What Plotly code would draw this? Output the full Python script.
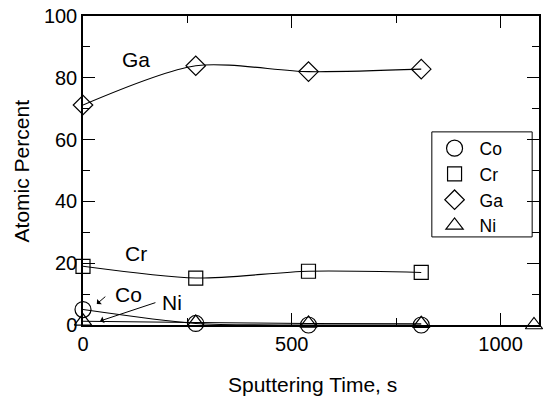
import plotly.graph_objects as go

time_s = [0, 270, 540, 810]
time_ni = [0, 270, 540, 810, 1080]
co = [5.0, 0.5, 0.0, 0.0]
cr = [19.0, 15.2, 17.4, 17.0]
ga = [71.2, 83.9, 82.0, 82.8]
ni = [1.2, 0.8, 0.5, 0.4, 0.0]

series = [
    ("Co", time_s, co, "circle-open", 16),
    ("Cr", time_s, cr, "square-open", 14),
    ("Ga", time_s, ga, "diamond-open", 15),
    ("Ni", time_ni, ni, "triangle-up-open", 15),
]

fig = go.Figure()
for name, xs, ys, sym, sz in series:
    fig.add_trace(go.Scatter(x=xs[:4], y=ys[:4], mode="lines",
                             line=dict(color="black", width=1.1, shape="spline", smoothing=0.8),
                             showlegend=False, hoverinfo="skip", cliponaxis=False))
for name, xs, ys, sym, sz in series:
    fig.add_trace(go.Scatter(x=xs, y=ys, mode="markers", name=name,
                             marker=dict(symbol=sym, size=sz, color="black", line=dict(width=1.2, color="black")),
                             cliponaxis=False))

fam = "Liberation Sans, Arial, sans-serif"
tick_font = dict(family=fam, size=20, color="black")
lab_font = dict(family=fam, size=21, color="black")
leg_font = dict(family=fam, size=17.5, color="black")

ann = [
    dict(x=127, y=86, text="Ga", showarrow=False, xref="x", yref="y", font=lab_font),
    dict(x=127, y=23, text="Cr", showarrow=False, xref="x", yref="y", font=lab_font),
    dict(x=108, y=10, text="Co", showarrow=False, xref="x", yref="y", font=lab_font),
    dict(x=213, y=7.4, text="Ni", showarrow=False, xref="x", yref="y", font=lab_font),
    dict(x=33, y=6.8, ax=57, ay=9.6, axref="x", ayref="y", xref="x", yref="y", text="", showarrow=True,
         arrowhead=1, arrowsize=1.2, arrowwidth=1, arrowcolor="black"),
    dict(x=41, y=1.3, ax=177, ay=7.4, axref="x", ayref="y", xref="x", yref="y", text="", showarrow=True,
         arrowhead=1, arrowsize=1.2, arrowwidth=1, arrowcolor="black"),
    dict(x=0.504, y=-0.194, xref="paper", yref="paper", text="Sputtering Time, s", showarrow=False,
         font=lab_font, xanchor="center", yanchor="middle"),
    dict(x=-0.134, y=0.5, xref="paper", yref="paper", text="Atomic Percent", showarrow=False,
         font=lab_font, xanchor="center", yanchor="middle", textangle=-90),
]

axis_common = dict(showgrid=False, zeroline=False, showline=True, linecolor="black", linewidth=1.5,
                   mirror="ticks", ticks="inside", ticklen=12, tickwidth=1, tickcolor="black",
                   tickfont=tick_font, automargin=False, ticklabeloverflow="allow")

fig.update_layout(
    width=547, height=400,
    margin=dict(l=83, r=8, t=16, b=75),
    plot_bgcolor="white", paper_bgcolor="white",
    font=tick_font,
    annotations=ann,
    shapes=[dict(type="rect", xref="paper", yref="paper", x0=0.765, x1=0.985, y0=0.285, y1=0.625,
                 line=dict(color="black", width=1), fillcolor="rgba(0,0,0,0)", layer="above")],
    xaxis=dict(range=[0, 1092], tickvals=[0, 500, 1000],
               minor=dict(tickvals=[250, 750], ticks="inside", ticklen=7, tickcolor="black"),
               **axis_common),
    yaxis=dict(range=[0, 100], tickvals=[0, 20, 40, 60, 80, 100],
               minor=dict(tickvals=[10, 30, 50, 70, 90], ticks="inside", ticklen=7, tickcolor="black"),
               **axis_common),
    legend=dict(x=0.760, y=0.630, xanchor="left", yanchor="top", borderwidth=0,
                bgcolor="rgba(0,0,0,0)", font=leg_font, tracegroupgap=0, itemwidth=40),
)

fig.write_html("out.html", config={"displayModeBar": False},
               post_script="document.body.style.margin='0';")
